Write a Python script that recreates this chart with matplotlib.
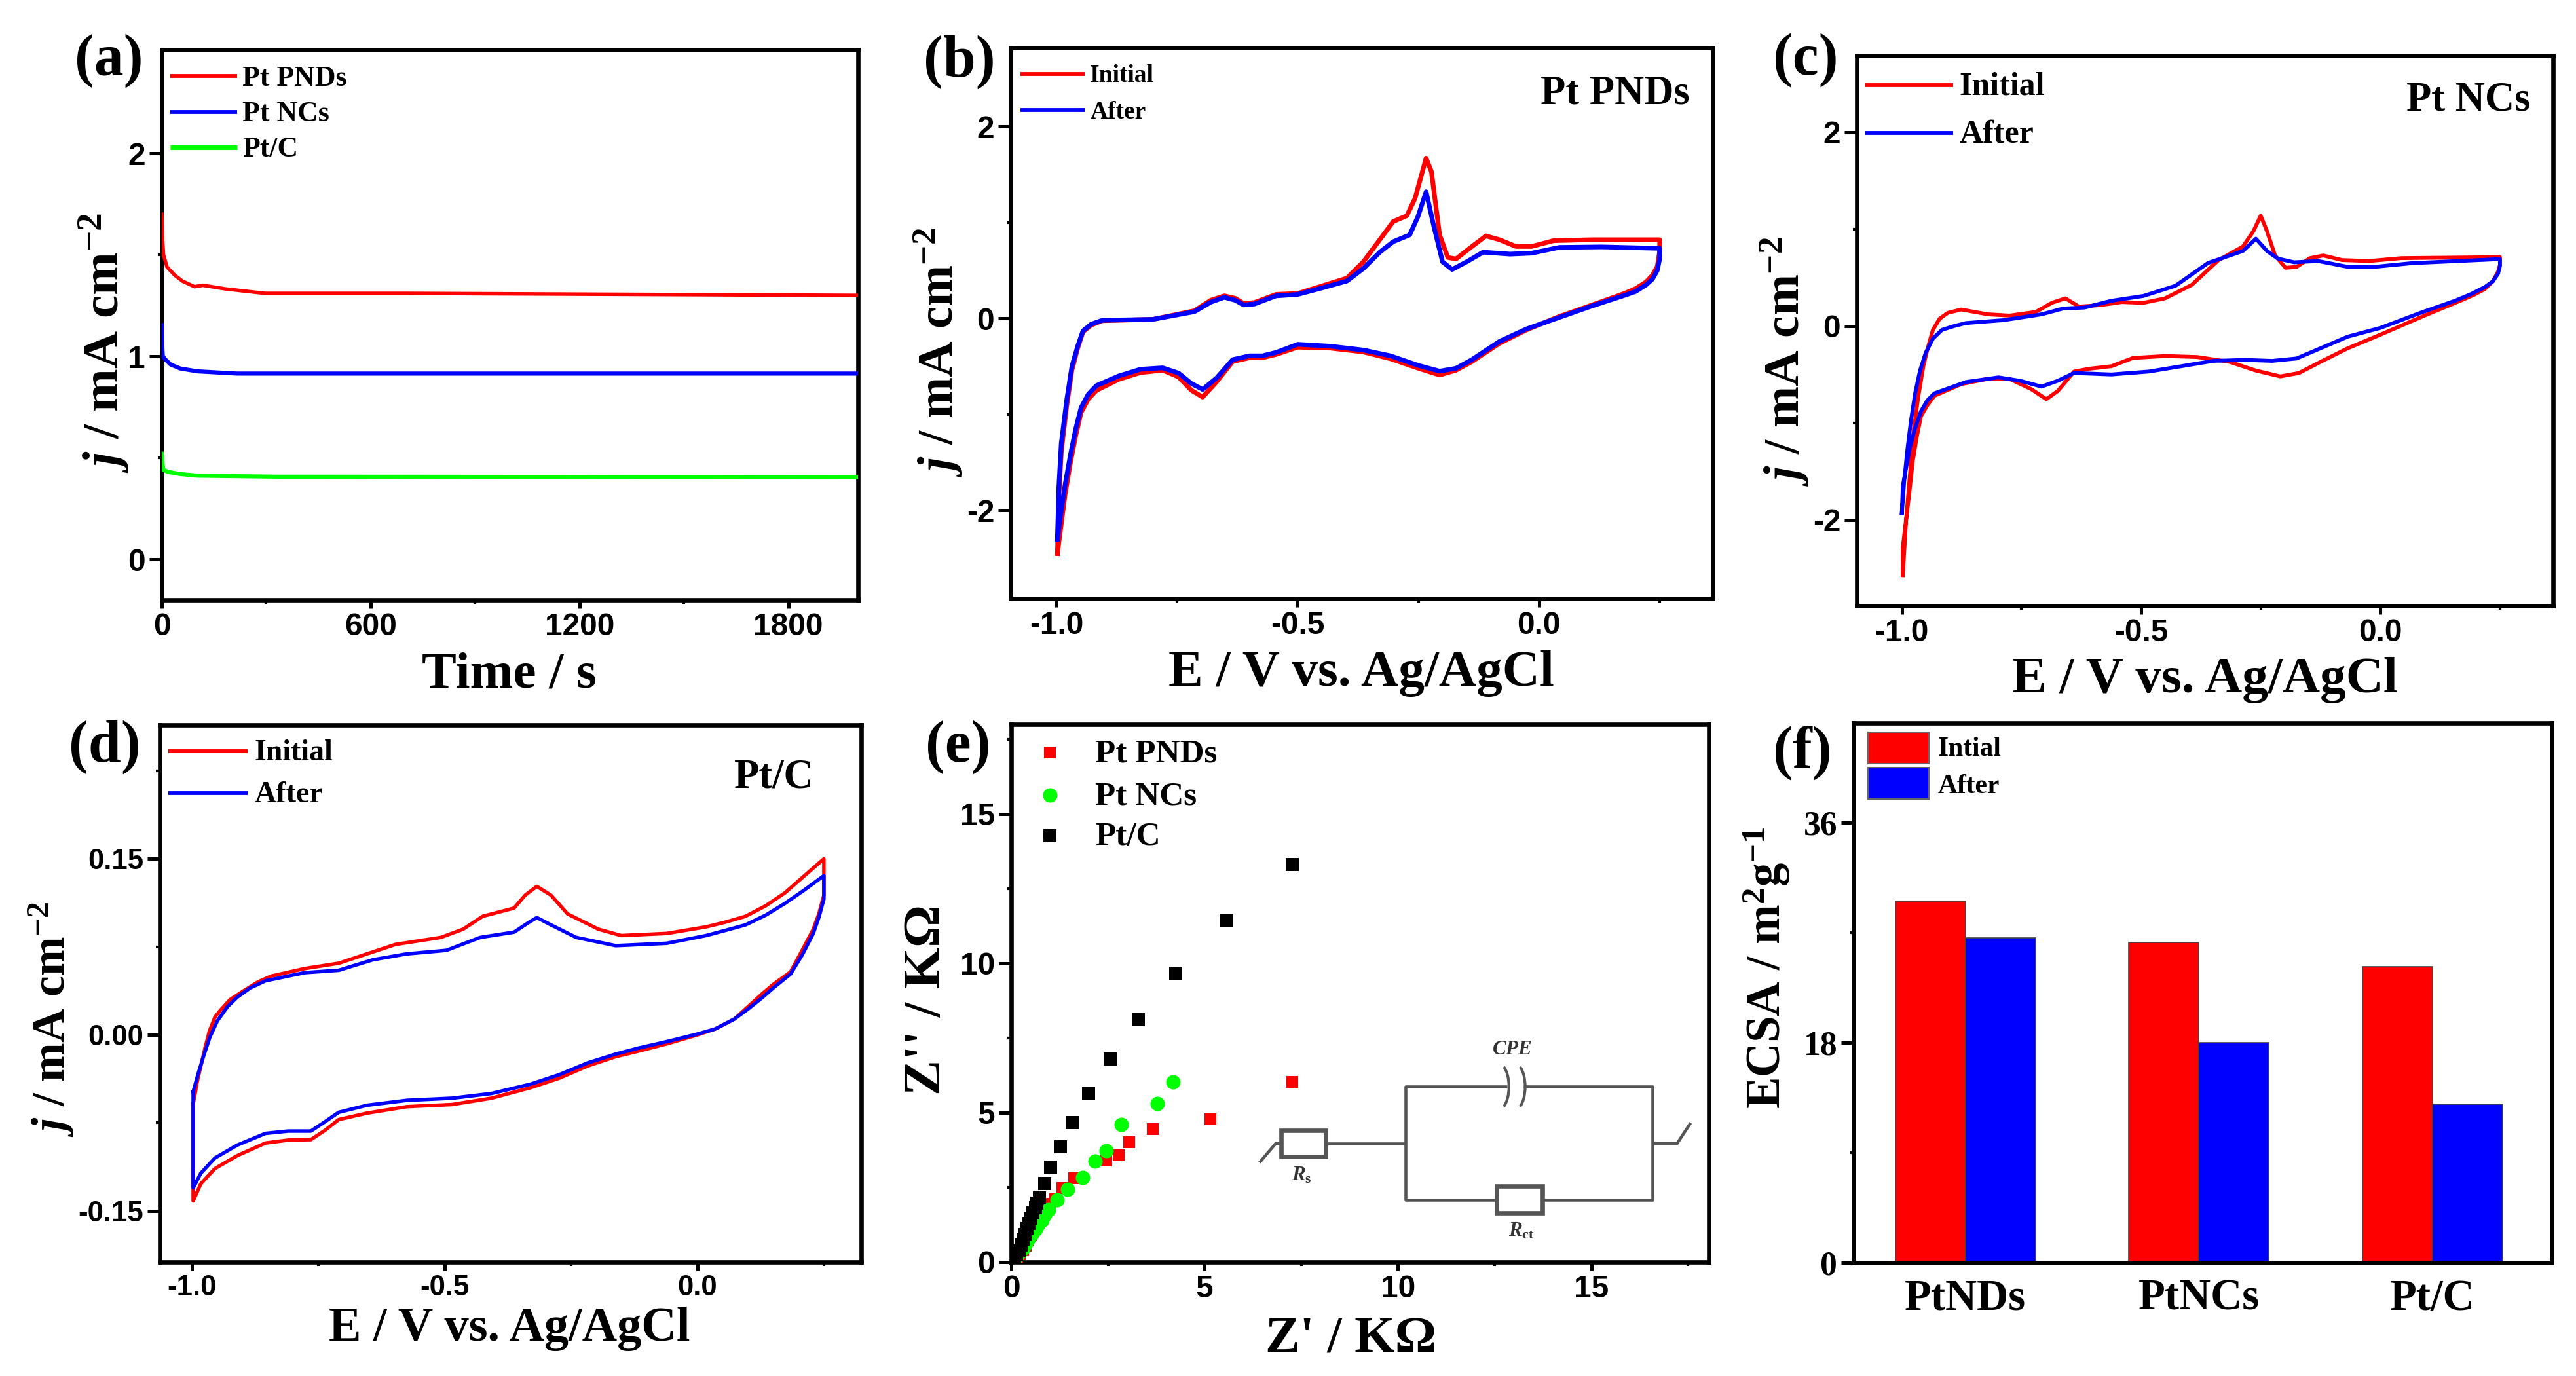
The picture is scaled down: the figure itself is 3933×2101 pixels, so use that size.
import matplotlib

matplotlib.use("Agg")
import matplotlib.pyplot as plt
from matplotlib.patches import Arc, Rectangle

WIDTH = 3933
HEIGHT = 2101
RED = "#ff0000"
BLUE = "#0000ff"
GREEN = "#00ff00"

plt.rcParams["font.family"] = ["Liberation Serif", "DejaVu Serif"]
plt.rcParams["font.weight"] = "bold"
plt.rcParams["mathtext.fontset"] = "custom"
plt.rcParams["mathtext.rm"] = "Liberation Serif:bold"
plt.rcParams["mathtext.it"] = "Liberation Serif:italic:bold"
plt.rcParams["mathtext.bf"] = "Liberation Serif:bold"
plt.rcParams["mathtext.default"] = "rm"
plt.rcParams["axes.unicode_minus"] = False

# (a) current vs time
a_red_t = [0, 2, 5, 15, 37, 60, 94, 118, 183, 297, 700, 1350, 2000]
a_red_j = [1.70, 1.58, 1.50, 1.44, 1.40, 1.37, 1.343, 1.35, 1.332, 1.31, 1.31, 1.305, 1.30]
a_blue_t = [0, 1, 3, 10, 25, 53, 102, 215, 700, 2000]
a_blue_j = [1.153, 1.06, 1.0, 0.985, 0.96, 0.94, 0.926, 0.915, 0.915, 0.915]
a_green_t = [0, 2, 5, 20, 53, 102, 330, 2000]
a_green_j = [0.52, 0.47, 0.44, 0.43, 0.42, 0.412, 0.407, 0.405]

# (b) Pt PNDs CV
b_init_e = [-0.998, -0.995, -0.99, -0.979, -0.968, -0.956, -0.945, -0.928, -0.905, -0.8, -0.714, -0.68, -0.652, -0.63,
            -0.612, -0.59, -0.545, -0.5, -0.455, -0.398, -0.364, -0.33, -0.302, -0.274, -0.257, -0.234, -0.223, -0.206,
            -0.189, -0.172, -0.144, -0.11, -0.082, -0.048, -0.015, 0.03, 0.11, 0.25,
            0.25, 0.245, 0.235, 0.222, 0.2, 0.177, 0.11, 0.042, -0.026, -0.082, -0.139, -0.172, -0.206, -0.25, -0.308,
            -0.364, -0.432, -0.5, -0.545, -0.573, -0.6, -0.635, -0.668, -0.697, -0.72, -0.747, -0.78,
            -0.826, -0.871, -0.917, -0.934, -0.949, -0.96, -0.971, -0.982, -0.99, -0.998]
b_init_j = [-2.45, -1.86, -1.39, -0.92, -0.54, -0.31, -0.14, -0.07, -0.024, -0.01, 0.08, 0.19, 0.235, 0.21,
            0.155, 0.165, 0.25, 0.26, 0.33, 0.42, 0.59, 0.82, 1.01, 1.07, 1.25, 1.67, 1.53, 0.87,
            0.635, 0.62, 0.73, 0.86, 0.82, 0.75, 0.75, 0.81, 0.82, 0.82,
            0.7, 0.54, 0.45, 0.38, 0.31, 0.26, 0.14, 0.02, -0.12, -0.26, -0.45, -0.54, -0.59, -0.52, -0.42,
            -0.35, -0.31, -0.30, -0.376, -0.41, -0.41, -0.45, -0.66, -0.82, -0.75, -0.61, -0.54,
            -0.565, -0.635, -0.75, -0.84, -0.98, -1.22, -1.5, -1.83, -2.14, -2.45]
b_after_e = [-0.998, -0.995, -0.99, -0.979, -0.968, -0.956, -0.945, -0.928, -0.905, -0.8, -0.714, -0.68, -0.652, -0.63,
             -0.612, -0.59, -0.545, -0.5, -0.455, -0.398, -0.364, -0.33, -0.302, -0.268, -0.251, -0.234, -0.218, -0.2,
             -0.18, -0.15, -0.116, -0.06, -0.015, 0.042, 0.13, 0.25,
             0.25, 0.245, 0.235, 0.222, 0.2, 0.177, 0.11, 0.042, -0.026, -0.082, -0.139, -0.172, -0.206, -0.25, -0.308,
             -0.364, -0.432, -0.5, -0.545, -0.573, -0.6, -0.635, -0.668, -0.697, -0.72, -0.747, -0.78,
             -0.826, -0.871, -0.917, -0.934, -0.949, -0.96, -0.971, -0.982, -0.99, -0.998]
b_after_j = [-2.3, -1.75, -1.3, -0.86, -0.5, -0.29, -0.13, -0.06, -0.02, -0.01, 0.07, 0.17, 0.22, 0.19,
             0.14, 0.15, 0.235, 0.25, 0.31, 0.39, 0.52, 0.69, 0.8, 0.87, 1.06, 1.32, 0.96, 0.59,
             0.51, 0.59, 0.69, 0.67, 0.68, 0.74, 0.745, 0.73,
             0.62, 0.5, 0.41, 0.35, 0.28, 0.24, 0.13, 0.01, -0.11, -0.24, -0.43, -0.52, -0.55, -0.49, -0.39,
             -0.33, -0.29, -0.27, -0.355, -0.39, -0.39, -0.43, -0.62, -0.74, -0.68, -0.57, -0.515,
             -0.53, -0.6, -0.7, -0.79, -0.93, -1.15, -1.42, -1.73, -2.0, -2.3]

# (c) Pt NCs CV
c_init_e = [-0.998, -0.991, -0.983, -0.975, -0.966, -0.955, -0.946, -0.935, -0.921, -0.904, -0.876, -0.82, -0.775, -0.72,
            -0.686, -0.658, -0.63, -0.585, -0.54, -0.496, -0.45, -0.394, -0.338, -0.287, -0.265, -0.25, -0.237, -0.22,
            -0.198, -0.175, -0.147, -0.119, -0.08, -0.024, 0.044, 0.25,
            0.25, 0.246, 0.235, 0.218, 0.195, 0.167, 0.089, 0.0, -0.068, -0.125, -0.17, -0.209, -0.26, -0.315, -0.383,
            -0.45, -0.517, -0.562, -0.607, -0.64, -0.674, -0.698, -0.73, -0.775, -0.82, -0.876, -0.932,
            -0.947, -0.96, -0.969, -0.977, -0.985, -0.998, -0.998]
c_init_j = [-2.57, -2.0, -1.53, -1.07, -0.74, -0.415, -0.23, -0.04, 0.075, 0.135, 0.17, 0.12, 0.107, 0.145,
            0.24, 0.285, 0.2, 0.215, 0.247, 0.238, 0.285, 0.424, 0.68, 0.82, 0.98, 1.137, 0.98, 0.727,
            0.60, 0.61, 0.70, 0.727, 0.68, 0.67, 0.70, 0.71,
            0.63, 0.56, 0.46, 0.38, 0.32, 0.26, 0.1, -0.09, -0.23, -0.37, -0.485, -0.52, -0.46, -0.37, -0.32,
            -0.31, -0.33, -0.415, -0.44, -0.47, -0.67, -0.755, -0.65, -0.545, -0.545, -0.60, -0.72,
            -0.82, -0.93, -1.15, -1.39, -1.75, -2.28, -2.57]
c_after_e = [-1.0, -0.995, -0.989, -0.981, -0.972, -0.962, -0.95, -0.935, -0.916, -0.89, -0.866, -0.787, -0.708, -0.663,
             -0.618, -0.562, -0.495, -0.428, -0.36, -0.287, -0.26, -0.237, -0.214, -0.18, -0.13, -0.068, -0.012, 0.066, 0.25,
             0.25, 0.246, 0.235, 0.218, 0.19, 0.156, 0.089, 0.0, -0.068, -0.125, -0.175, -0.226, -0.282, -0.349, -0.416,
             -0.484, -0.562, -0.64, -0.674, -0.708, -0.753, -0.798, -0.866, -0.932, -0.947, -0.96, -0.972, -0.983, -0.998, -1.0]
c_after_j = [-1.93, -1.6, -1.3, -0.98, -0.69, -0.46, -0.275, -0.13, -0.04, 0.0, 0.03, 0.06, 0.12, 0.18,
             0.19, 0.26, 0.31, 0.415, 0.65, 0.774, 0.90, 0.774, 0.695, 0.657, 0.67, 0.61, 0.61, 0.648, 0.69,
             0.62, 0.54, 0.46, 0.40, 0.33, 0.26, 0.145, -0.02, -0.11, -0.23, -0.335, -0.36, -0.35, -0.36, -0.415,
             -0.47, -0.5, -0.485, -0.565, -0.625, -0.565, -0.53, -0.578, -0.695, -0.77, -0.88, -1.05, -1.25, -1.65, -1.93]

# (d) Pt/C CV
d_init_e = [-0.998, -0.99, -0.983, -0.975, -0.966, -0.955, -0.944, -0.925, -0.9, -0.87, -0.844, -0.777, -0.71, -0.654,
            -0.598, -0.508, -0.464, -0.425, -0.363, -0.341, -0.318, -0.29, -0.257, -0.196, -0.151, -0.061,
            0.017, 0.055, 0.095, 0.135, 0.173, 0.21, 0.25,
            0.25, 0.24, 0.229, 0.207, 0.184, 0.15, 0.128, 0.1, 0.073, 0.035, 0.0, -0.061, -0.117, -0.162, -0.218, -0.274, -0.33,
            -0.408, -0.486, -0.575, -0.654, -0.71, -0.737, -0.765, -0.81, -0.855, -0.911, -0.955, -0.983, -0.998, -0.998]
d_init_j = [-0.059, -0.04, -0.027, -0.012, 0.003, 0.015, 0.021, 0.03, 0.037, 0.045, 0.05, 0.0565, 0.061, 0.069,
            0.077, 0.083, 0.09, 0.101, 0.108, 0.119, 0.1265, 0.119, 0.103, 0.09, 0.0846, 0.0864,
            0.092, 0.096, 0.101, 0.11, 0.121, 0.135, 0.15,
            0.119, 0.103, 0.09, 0.072, 0.0536, 0.043, 0.035, 0.024, 0.0135, 0.005, 0.0, -0.0077, -0.0139, -0.0186, -0.0266, -0.037, -0.045,
            -0.054, -0.0594, -0.0612, -0.0667, -0.0722, -0.0813, -0.0893, -0.0897, -0.0922, -0.103, -0.114, -0.127, -0.1415, -0.059]
d_after_e = [-0.998, -0.988, -0.978, -0.965, -0.95, -0.93, -0.911, -0.885, -0.855, -0.777, -0.71, -0.642, -0.575, -0.497, -0.43,
             -0.363, -0.335, -0.318, -0.29, -0.24, -0.162, -0.061, 0.017, 0.055, 0.095, 0.135, 0.173, 0.21, 0.25,
             0.25, 0.24, 0.229, 0.207, 0.184, 0.15, 0.128, 0.1, 0.073, 0.035, 0.0, -0.061, -0.117, -0.162, -0.218, -0.274, -0.33,
             -0.408, -0.486, -0.575, -0.654, -0.71, -0.737, -0.765, -0.81, -0.855, -0.911, -0.955, -0.983, -0.998, -0.998]
d_after_j = [-0.0485, -0.033, -0.019, -0.002, 0.012, 0.024, 0.032, 0.04, 0.046, 0.053, 0.055, 0.064, 0.069, 0.072, 0.083,
             0.0875, 0.0955, 0.0999, 0.0937, 0.083, 0.076, 0.078, 0.0846, 0.089, 0.0937, 0.102, 0.112, 0.123, 0.1356,
             0.1156, 0.1, 0.0864, 0.068, 0.0518, 0.04, 0.0317, 0.022, 0.0135, 0.005, 0.0007, -0.0058, -0.0113, -0.0164, -0.024, -0.034, -0.042,
             -0.05, -0.054, -0.0558, -0.06, -0.066, -0.074, -0.082, -0.082, -0.084, -0.094, -0.105, -0.118, -0.1305, -0.0485]

# (e) Nyquist
e_red_x = [7.26, 5.15, 3.66, 3.05, 2.77, 2.45, 1.63, 1.32, 1.14, 1.0, 0.9, 0.8, 0.72, 0.6, 0.5, 0.43, 0.37, 0.3, 0.22, 0.15, 0.08]
e_red_y = [6.03, 4.79, 4.46, 4.01, 3.57, 3.4, 2.8, 2.47, 2.11, 1.95, 1.76, 1.55, 1.33, 1.1, 0.9, 0.72, 0.54, 0.4, 0.26, 0.16, 0.09]
e_green_x = [4.19, 3.77, 2.84, 2.46, 2.17, 1.84, 1.45, 1.18, 0.96, 0.87, 0.79, 0.7, 0.62, 0.53, 0.44, 0.37, 0.3, 0.22, 0.15, 0.1, 0.06]
e_green_y = [6.04, 5.31, 4.61, 3.73, 3.37, 2.83, 2.43, 2.09, 1.76, 1.58, 1.4, 1.25, 1.09, 0.92, 0.76, 0.61, 0.47, 0.33, 0.21, 0.13, 0.07]
e_black_x = [7.26, 5.57, 4.26, 3.29, 2.55, 2.0, 1.58, 1.27, 1.01, 0.86, 0.72, 0.66, 0.62, 0.56, 0.51, 0.46, 0.41, 0.35, 0.3, 0.25, 0.2, 0.14, 0.08, 0.04]
e_black_y = [13.3, 11.43, 9.66, 8.11, 6.8, 5.63, 4.66, 3.86, 3.19, 2.64, 2.14, 1.98, 1.83, 1.65, 1.47, 1.29, 1.11, 0.93, 0.76, 0.58, 0.4, 0.25, 0.11, 0.05]

# (f) ECSA bars
f_labels = ["PtNDs", "PtNCs", "Pt/C"]
f_initial = [29.6, 26.2, 24.2]
f_after = [26.6, 18.0, 12.95]


def make_axes(left, top, right, bottom):
    ax = fig.add_axes([left / WIDTH, 1 - bottom / HEIGHT, (right - left) / WIDTH, (bottom - top) / HEIGHT])
    for spine in ax.spines.values():
        spine.set_linewidth(1.6)
    ax.tick_params(axis="both", which="major", direction="out", width=1.2, pad=1.5)
    ax.tick_params(axis="y", which="major", length=4.5)
    ax.tick_params(axis="x", which="major", length=3)
    ax.tick_params(axis="both", which="minor", direction="out", width=1.0, length=1.5)
    return ax


def sans_ticks(ax, size=11.5):
    for label in ax.get_xticklabels() + ax.get_yticklabels():
        label.set_family("Liberation Sans")
        label.set_fontweight("bold")
        label.set_fontsize(size)


def page_text(x, y, text, size, rotation=0):
    fig.text(x / WIDTH, 1 - y / HEIGHT, text, fontsize=size, rotation=rotation, ha="center", va="center",
             fontweight="bold")


def line_key(ax, x0, x1, text_x, y, color, text, size, lw=1.4):
    ax.plot([x0, x1], [y, y], color=color, lw=lw, transform=ax.transAxes, solid_capstyle="butt")
    ax.text(text_x, y - 0.004, text, transform=ax.transAxes, fontsize=size, va="center", ha="left", fontweight="bold")


def cv_axes(ax, xlim, ylim, yticks, yminor):
    ax.set_xlim(*xlim)
    ax.set_ylim(*ylim)
    ax.set_xticks([-1.0, -0.5, 0.0])
    ax.set_xticks([-0.75, -0.25, 0.25], minor=True)
    ax.set_yticks(yticks)
    ax.set_yticks(yminor, minor=True)


fig = plt.figure(figsize=(WIDTH / 300, HEIGHT / 300), dpi=300, facecolor="white")

# panel a
ax_a = make_axes(247, 76, 1310, 916)
ax_a.plot(a_red_t, a_red_j, color=RED, lw=1.3, zorder=3)
ax_a.plot(a_blue_t, a_blue_j, color=BLUE, lw=1.5, zorder=3)
ax_a.plot(a_green_t, a_green_j, color=GREEN, lw=1.5, zorder=3)
ax_a.set_xlim(0, 2000)
ax_a.set_ylim(-0.2, 2.51)
ax_a.set_xticks([0, 600, 1200, 1800])
ax_a.set_xticks([300, 900, 1500], minor=True)
ax_a.set_yticks([0, 1, 2])
ax_a.set_yticks([0.5, 1.5], minor=True)
sans_ticks(ax_a)
line_key(ax_a, 0.012, 0.108, 0.116, 0.952, RED, "Pt PNDs", 10.5)
line_key(ax_a, 0.012, 0.108, 0.116, 0.887, BLUE, "Pt NCs", 10.5)
line_key(ax_a, 0.012, 0.108, 0.116, 0.823, GREEN, "Pt/C", 10.5, lw=1.7)

# panel b
ax_b = make_axes(1543, 73, 2615, 914)
ax_b.plot(b_init_e, b_init_j, color=RED, lw=1.7)
ax_b.plot(b_after_e, b_after_j, color=BLUE, lw=1.7)
cv_axes(ax_b, (-1.095, 0.36), (-2.92, 2.82), [-2, 0, 2], [-1, 1])
sans_ticks(ax_b)
line_key(ax_b, 0.014, 0.105, 0.113, 0.953, RED, "Initial", 9)
line_key(ax_b, 0.014, 0.105, 0.113, 0.887, BLUE, "After", 9)
ax_b.text(0.967, 0.916, "Pt PNDs", transform=ax_b.transAxes, fontsize=15, ha="right", va="center", fontweight="bold")

# panel c
ax_c = make_axes(2835, 85, 3898, 925)
ax_c.plot(c_init_e, c_init_j, color=RED, lw=1.4)
ax_c.plot(c_after_e, c_after_j, color=BLUE, lw=1.4)
cv_axes(ax_c, (-1.094, 0.361), (-2.886, 2.788), [-2, 0, 2], [-1, 1])
sans_ticks(ax_c)
line_key(ax_c, 0.012, 0.138, 0.147, 0.947, RED, "Initial", 12)
line_key(ax_c, 0.012, 0.138, 0.147, 0.86, BLUE, "After", 12)
ax_c.text(0.967, 0.918, "Pt NCs", transform=ax_c.transAxes, fontsize=15, ha="right", va="center", fontweight="bold")

# panel d
ax_d = make_axes(244, 1107, 1315, 1927)
ax_d.plot(d_init_e, d_init_j, color=RED, lw=1.3)
ax_d.plot(d_after_e, d_after_j, color=BLUE, lw=1.3)
cv_axes(ax_d, (-1.064, 0.324), (-0.1936, 0.264), [-0.15, 0.0, 0.15], [-0.075, 0.075, 0.225])
ax_d.set_yticklabels(["-0.15", "0.00", "0.15"])
ax_d.set_xticklabels(["-1.0", "-0.5", "0.0"])
sans_ticks(ax_d, 10.5)
line_key(ax_d, 0.012, 0.125, 0.135, 0.951, RED, "Initial", 11)
line_key(ax_d, 0.012, 0.125, 0.135, 0.873, BLUE, "After", 11)
ax_d.text(0.932, 0.902, "Pt/C", transform=ax_d.transAxes, fontsize=15, ha="right", va="center", fontweight="bold")

# panel e
ax_e = make_axes(1544, 1106, 2609, 1927)
ax_e.scatter(e_red_x, e_red_y, s=19, marker="s", color=RED, linewidths=0, zorder=3)
ax_e.scatter(e_green_x, e_green_y, s=28, marker="o", color=GREEN, linewidths=0, zorder=4)
ax_e.scatter(e_black_x, e_black_y, s=21, marker="s", color="black", linewidths=0, zorder=5)
ax_e.set_xlim(0, 18.04)
ax_e.set_ylim(0, 18)
ax_e.set_xticks([0, 5, 10, 15])
ax_e.set_xticks([2.5, 7.5, 12.5, 17.5], minor=True)
ax_e.set_yticks([0, 5, 10, 15])
ax_e.set_yticks([2.5, 7.5, 12.5, 17.5], minor=True)
sans_ticks(ax_e)
for y_pos, color, marker, size, name in [(0.948, RED, "s", 19, "Pt PNDs"), (0.869, GREEN, "o", 28, "Pt NCs"),
                                         (0.793, "black", "s", 21, "Pt/C")]:
    ax_e.scatter([0.055], [y_pos], s=size, marker=marker, color=color, linewidths=0, transform=ax_e.transAxes)
    ax_e.text(0.12, y_pos - 0.003, name, transform=ax_e.transAxes, fontsize=12.3, va="center", ha="left", fontweight="bold")

# equivalent circuit inset, in the data units of panel e
wire = {"color": "#555555", "lw": 1.1, "solid_capstyle": "butt"}
ax_e.plot([6.42, 6.84, 6.98], [3.33, 3.97, 3.97], **wire)
ax_e.plot([8.13, 10.19], [3.97, 3.97], **wire)
ax_e.plot([12.82, 10.19, 10.19, 12.56], [5.87, 5.87, 2.09, 2.09], **wire)
ax_e.plot([13.24, 16.59, 16.59, 13.73], [5.87, 5.87, 2.09, 2.09], **wire)
ax_e.plot([16.59, 17.22, 17.57], [3.97, 3.97, 4.66], **wire)
ax_e.add_patch(Rectangle((6.98, 3.54), 1.15, 0.86, fill=False, ec="#555555", lw=1.6))
ax_e.add_patch(Rectangle((12.56, 1.64), 1.17, 0.9, fill=False, ec="#555555", lw=1.6))
ax_e.add_patch(Arc((12.62, 5.87), 0.5, 1.5, theta1=-80, theta2=80, ec="#555555", lw=1.0))
ax_e.add_patch(Arc((13.04, 5.87), 0.5, 1.5, theta1=-80, theta2=80, ec="#555555", lw=1.0))
ax_e.text(12.96, 7.11, "CPE", fontsize=7.5, style="italic", fontweight="bold", ha="center", va="center", color="#333333")
ax_e.text(7.51, 2.9, r"$\mathit{R}_{\mathrm{s}}$", fontsize=7.5, ha="center", va="center", color="#333333")
ax_e.text(13.2, 1.04, r"$\mathit{R}_{\mathrm{ct}}$", fontsize=7.5, ha="center", va="center", color="#333333")

# panel f
ax_f = make_axes(2830, 1104, 3896, 1928)
bar_x = [1, 2, 3]
bar_width = 0.3
ax_f.bar([x - bar_width / 2 for x in bar_x], f_initial, bar_width, color=RED, edgecolor="#444444", linewidth=0.4)
ax_f.bar([x + bar_width / 2 for x in bar_x], f_after, bar_width, color=BLUE, edgecolor="#444444", linewidth=0.4)
ax_f.set_xlim(0.522, 3.51)
ax_f.set_ylim(0, 44.15)
ax_f.set_xticks(bar_x)
ax_f.set_xticklabels(f_labels, fontsize=16)
ax_f.tick_params(axis="x", length=0, pad=6)
ax_f.set_yticks([0, 18, 36])
ax_f.set_yticks([9, 27], minor=True)
ax_f.tick_params(axis="y", labelsize=12.4)
for y_low, y_high, color in [(0.925, 0.983, RED), (0.859, 0.917, BLUE)]:
    ax_f.add_patch(Rectangle((0.021, y_low), 0.087, y_high - y_low, transform=ax_f.transAxes, facecolor=color,
                             edgecolor="#666666", linewidth=0.5))
ax_f.text(0.121, 0.951, "Intial", transform=ax_f.transAxes, fontsize=10, va="center", ha="left", fontweight="bold")
ax_f.text(0.121, 0.882, "After", transform=ax_f.transAxes, fontsize=10, va="center", ha="left", fontweight="bold")

# axis titles and panel letters, placed on the page
jlabel = r"$\mathit{j}$ / mA cm$^{-2}$"
page_text(777, 1031, "Time / s", 19)
page_text(2078, 1029, "E / V vs. Ag/AgCl", 19)
page_text(3366, 1039, "E / V vs. Ag/AgCl", 19)
page_text(778, 2029, "E / V vs. Ag/AgCl", 17.8)
page_text(2063, 2046, "Z' / KΩ", 19)
page_text(159, 523, jlabel, 19, rotation=90)
page_text(1433, 538, jlabel, 18.2, rotation=90)
page_text(2725, 552, jlabel, 18.2, rotation=90)
page_text(78, 1556, jlabel, 17.2, rotation=90)
page_text(1416, 1527, "Z'' / KΩ", 19.5, rotation=90)
page_text(2697, 1478, r"ECSA / m$^{2}$g$^{-1}$", 17.5, rotation=90)
page_text(166, 93, "(a)", 21.5)
page_text(1465, 95, "(b)", 21.5)
page_text(2757, 92, "(c)", 21.5)
page_text(160, 1141, "(d)", 21.5)
page_text(1463, 1141, "(e)", 21.5)
page_text(2752, 1149, "(f)", 21.5)

fig.savefig("out.png", dpi=300, facecolor="white")
plt.close(fig)
